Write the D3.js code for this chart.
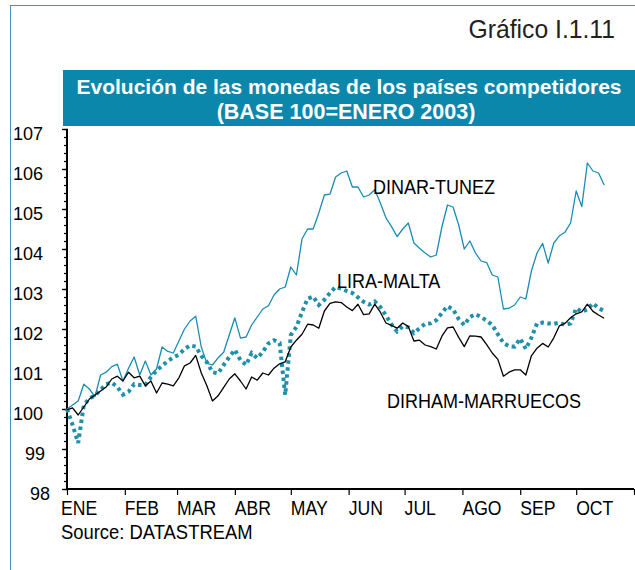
<!DOCTYPE html>
<html>
<head>
<meta charset="utf-8">
<script src="https://cdn.jsdelivr.net/npm/d3@7"></script>
<style>
	body { margin: 0; background: #fff; }
	svg { display: block; font-family: "Liberation Sans", Arial, sans-serif; }
</style>
</head>
<body>
<div id="chart"></div>
<script>
//	Values, one point every three days
var dates = ["01-01","01-04","01-07","01-10","01-13","01-16","01-19","01-22","01-25","01-28","01-31",
	"02-03","02-06","02-09","02-12","02-15","02-18","02-21","02-24","02-27",
	"03-02","03-05","03-08","03-11","03-14","03-17","03-20","03-23","03-26","03-29",
	"04-01","04-04","04-07","04-10","04-13","04-16","04-19","04-22","04-25","04-28",
	"05-01","05-04","05-07","05-10","05-13","05-16","05-19","05-22","05-25","05-28","05-31",
	"06-03","06-06","06-09","06-12","06-15","06-18","06-21","06-24","06-27","06-30",
	"07-03","07-06","07-09","07-12","07-15","07-18","07-21","07-24","07-27","07-30",
	"08-02","08-05","08-08","08-11","08-14","08-17","08-20","08-23","08-26","08-29",
	"09-01","09-04","09-07","09-10","09-13","09-16","09-19","09-22","09-25","09-28",
	"10-01","10-04","10-07","10-10","10-13","10-16"];

var dinar = [100.0, 100.1, 100.2, 100.62, 100.5, 100.31, 100.85, 100.92, 101.06, 101.12, 100.7,
	101.02, 101.3, 100.85, 101.2, 100.85, 101.0, 101.55, 101.44, 101.4,
	101.7, 102.0, 102.2, 102.32, 101.55, 101.14, 101.1, 101.28, 101.42, 101.85,
	102.28, 101.77, 101.8, 102.1, 102.3, 102.5, 102.58, 102.85, 103.0, 103.05,
	103.55, 103.35, 104.25, 104.5, 104.5, 104.9, 105.35, 105.37, 105.8, 105.9, 105.95,
	105.55, 105.55, 105.3, 105.35, 105.48, 105.15, 104.78, 104.56, 104.31, 104.5,
	104.65, 104.15, 104.02, 103.9, 103.8, 103.85, 104.55, 105.1, 105.05, 104.6,
	104.0, 104.2, 103.9, 103.7, 103.66, 103.35, 103.3, 102.5, 102.52, 102.6,
	102.8, 102.75, 103.45, 103.9, 104.14, 103.65, 104.15, 104.33, 104.42, 104.65,
	105.45, 105.06, 106.15, 105.95, 105.9, 105.6];

var lira = [100.0, 99.6, 99.15, 100.1, 100.26, 100.34, 100.48, 100.62, 100.66, 100.55, 100.36,
	100.43, 100.62, 100.6, 100.6, 100.8, 100.96, 101.08, 101.2, 101.29,
	101.36, 101.5, 101.59, 101.56, 101.33, 101.17, 100.92, 100.89, 101.1, 101.3,
	101.48, 101.22, 101.1, 101.4, 101.27, 101.43, 101.64, 101.72, 101.65, 100.35,
	101.85, 102.05, 102.42, 102.76, 102.81, 102.6, 102.73, 102.9, 103.05, 103.01, 102.95,
	102.9, 102.79, 102.68, 102.61, 102.69, 102.55, 102.34, 102.11, 101.94, 102.07,
	102.04, 101.9, 102.02, 102.13, 102.14, 102.22, 102.4, 102.57, 102.49, 102.25,
	102.1, 102.3, 102.37, 102.3, 102.21, 102.1, 101.87, 101.65, 101.57, 101.56,
	101.76, 101.5, 101.78, 102.14, 102.16, 102.14, 102.13, 102.16, 102.1, 102.14,
	102.52, 102.43, 102.49, 102.64, 102.52, 102.45];

var dirham = [99.98, 100.03, 99.85, 100.05, 100.25, 100.35, 100.45, 100.55, 100.75, 100.82, 100.7,
	100.92, 100.78, 100.82, 100.58, 100.7, 100.4, 100.65, 100.62, 100.58,
	100.78, 101.08, 101.15, 101.34, 100.9, 100.58, 100.2, 100.33, 100.54, 100.75,
	100.88, 100.7, 100.5, 100.8, 100.72, 100.9, 100.85, 101.02, 101.13, 101.18,
	101.55, 101.72, 101.87, 102.12, 102.1, 102.02, 102.45, 102.64, 102.68, 102.66, 102.55,
	102.46, 102.62, 102.36, 102.38, 102.62, 102.42, 102.15, 102.09, 102.02, 102.15,
	102.06, 101.7, 101.72, 101.6, 101.56, 101.5, 101.82, 102.03, 102.05, 101.79,
	101.56, 101.83, 101.82, 101.8, 101.61, 101.4, 101.24, 100.82, 100.92, 100.98,
	100.98, 100.85, 101.33, 101.52, 101.64, 101.55, 101.78, 102.08, 102.14, 102.28,
	102.38, 102.43, 102.62, 102.44, 102.35, 102.27];

var months = ["ENE","FEB","MAR","ABR","MAY","JUN","JUL","AGO","SEP","OCT"];
var yTicks = [98, 99, 100, 101, 102, 103, 104, 105, 106, 107];

var teal = "#0b87ab",
	lineTeal = "#1a8cb3",
	dotTeal = "#1f8fab";

var W = 635, H = 570;
var parse = d3.timeParse("%Y-%m-%d");
var when = dates.map(function(d) { return parse("2003-" + d); });

//	Squeeze text to look like the narrow Helvetica of the original
function condense(sel, k) {
	sel.each(function() {
		var w = this.getComputedTextLength();
		d3.select(this)
			.attr("textLength", w * k)
			.attr("lengthAdjust", "spacingAndGlyphs");
	});
}

var svg = d3.select("#chart").append("svg")
	.attr("width", W)
	.attr("height", H);

//	Frame
svg.append("line").attr("x1", 10.5).attr("y1", 5).attr("x2", 10.5).attr("y2", H)
	.attr("stroke", "#3f93c6").attr("stroke-width", 1);
svg.append("line").attr("x1", 10).attr("y1", 5.5).attr("x2", W).attr("y2", 5.5)
	.attr("stroke", "#3f93c6").attr("stroke-width", 1);

svg.append("text")
	.attr("x", 615).attr("y", 38)
	.attr("text-anchor", "end")
	.attr("font-size", 26)
	.attr("fill", "#231f20")
	.text("Gráfico I.1.11")
	.call(condense, 0.95);

//	Title box
svg.append("rect")
	.attr("x", 63).attr("y", 70)
	.attr("width", W - 63).attr("height", 56)
	.attr("fill", teal);

svg.append("text")
	.attr("x", 349).attr("y", 94)
	.attr("text-anchor", "middle")
	.attr("font-size", 21).attr("font-weight", "bold")
	.attr("fill", "#fff")
	.text("Evolución de las monedas de los países competidores");

svg.append("text")
	.attr("x", 346).attr("y", 119)
	.attr("text-anchor", "middle")
	.attr("font-size", 21.5).attr("font-weight", "bold")
	.attr("fill", "#fff")
	.text("(BASE 100=ENERO 2003)");

//	Scales
var x = d3.scaleTime()
	.domain([parse("2003-01-01"), parse("2003-11-01")])
	.range([67, 634]);

var y = d3.scaleLinear()
	.domain([98, 107])
	.range([489, 129]);

//	Y axis with minor ticks
var yAxis = svg.append("g").attr("transform", "translate(67,0)");

yAxis.call(d3.axisLeft(y)
		.tickValues(d3.range(980, 1071, 2).map(function(d) { return d / 10; }))
		.tickSize(3)
		.tickFormat(""))
	.call(function(g) {
		g.select(".domain").remove();
		g.selectAll("line").attr("stroke", "#000").attr("stroke-width", 1.2).attr("x2", -3).attr("x1", 1);
	});

yAxis.append("g")
	.call(d3.axisLeft(y).tickValues(yTicks).tickSize(5).tickFormat(""))
	.call(function(g) {
		g.select(".domain").remove();
		g.selectAll("line").attr("stroke", "#000").attr("stroke-width", 1.4).attr("x1", 1);
	});

yAxis.append("line")
	.attr("y1", y(107)).attr("y2", y(98) + 1)
	.attr("stroke", "#000").attr("stroke-width", 2);

svg.selectAll(".ylab")
	.data(yTicks)
	.enter().append("text")
	.attr("class", "ylab")
	.attr("x", function(d) { return d === 98 ? 50 : (d === 99 ? 45 : 43); })
	.attr("y", function(d) { return y(d) + (d === 98 ? 11 : 10.5); })
	.attr("text-anchor", "end")
	.attr("font-size", 18)
	.attr("fill", "#000")
	.text(function(d) { return d; });

//	X axis
var monthStarts = d3.timeMonth.range(parse("2003-01-01"), parse("2003-11-02"));

var xAxis = svg.append("g").attr("transform", "translate(0,489)");

xAxis.call(d3.axisBottom(x).tickValues(monthStarts).tickSize(6).tickFormat(""))
	.call(function(g) {
		g.select(".domain").remove();
		g.selectAll("line").attr("stroke", "#000").attr("stroke-width", 1.2);
	});

xAxis.append("line")
	.attr("x1", 66).attr("x2", 634)
	.attr("stroke", "#000").attr("stroke-width", 2);

svg.selectAll(".xlab")
	.data(months)
	.enter().append("text")
	.attr("class", "xlab")
	.attr("x", function(d, i) { return x(monthStarts[i]) + (i === 0 ? -6 : 0); })
	.attr("y", 515)
	.attr("font-size", 20)
	.attr("fill", "#000")
	.text(function(d) { return d; })
	.call(condense, 0.88);

svg.append("text")
	.attr("x", 61).attr("y", 539)
	.attr("font-size", 20)
	.attr("fill", "#000")
	.text("Source: DATASTREAM")
	.call(condense, 0.92);

//	Series
var line = d3.line()
	.x(function(d, i) { return x(when[i]); })
	.y(function(d) { return y(d); });

svg.append("path")
	.datum(dinar)
	.attr("d", line)
	.attr("fill", "none")
	.attr("stroke", lineTeal)
	.attr("stroke-width", 1.3)
	.attr("stroke-linejoin", "round");

svg.append("path")
	.datum(lira)
	.attr("d", line)
	.attr("fill", "none")
	.attr("stroke", dotTeal)
	.attr("stroke-width", 4)
	.attr("stroke-dasharray", "3.5,3.5");

svg.append("path")
	.datum(dirham)
	.attr("d", line)
	.attr("fill", "none")
	.attr("stroke", "#000")
	.attr("stroke-width", 1.3)
	.attr("stroke-linejoin", "round");

//	Series labels
var labels = [
	{ text: "DINAR-TUNEZ", x: 373, y: 194 },
	{ text: "LIRA-MALTA", x: 337, y: 288 },
	{ text: "DIRHAM-MARRUECOS", x: 387, y: 408 }
];

svg.selectAll(".slab")
	.data(labels)
	.enter().append("text")
	.attr("class", "slab")
	.attr("x", function(d) { return d.x; })
	.attr("y", function(d) { return d.y; })
	.attr("font-size", 20)
	.attr("fill", "#000")
	.text(function(d) { return d.text; })
	.call(condense, 0.9);
</script>
</body>
</html>
